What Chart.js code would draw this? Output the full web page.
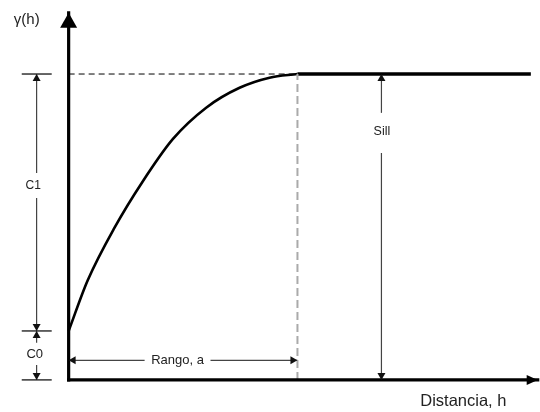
<!DOCTYPE html>
<html lang="es">
<head>
<meta charset="UTF-8">
<title>Variograma</title>
<script src="https://cdn.jsdelivr.net/npm/chart.js"></script>
<style>
  html, body { margin: 0; padding: 0; background: #fff; }
  canvas { display: block; }
</style>
</head>
<body>
<canvas id="variogram" width="540" height="412"></canvas>
<script>
// Modelo de variograma: efecto pepita, meseta y rango
const nugget = 0.16;   // C0
const sill = 1.0;      // C0 + C1
const range = 1.0;     // a
const hAxisEnd = 2.05;
const gammaAxisEnd = 1.2;
const sillEnd = 2.02;

// curva leída punto a punto hasta el rango
const curveH     = [0, 0.083, 0.200, 0.323, 0.455, 0.601, 0.747, 0.878, 1.0];
const curveGamma = [0.16, 0.325, 0.497, 0.648, 0.787, 0.890, 0.955, 0.988, 1.0];

// cotas
const dimX = -0.14;          // cota vertical izquierda (C0, C1)
const tickX = [-0.205, -0.074];
const sillX = 1.367;         // cota de la meseta
const rangoY = 0.064;        // cota del rango
const c1Gap = [0.595, 0.676];
const c0Gap = [0.049, 0.121];
const sillGap = [0.742, 0.873];
const rangoGap = [0.332, 0.620];

const labels = [
  { text: 'γ(h)', h: -0.183, g: 1.176, size: 15 },
  { text: 'Distancia, h', h: 1.725, g: -0.072, size: 16.5 },
  { text: 'C1', h: -0.155, g: 0.634, size: 12 },
  { text: 'C0', h: -0.148, g: 0.082, size: 13 },
  { text: 'Sill', h: 1.369, g: 0.812, size: 12.5 },
  { text: 'Rango, a', h: 0.476, g: 0.062, size: 13 }
];

const pts = (xs, ys) => xs.map((x, i) => ({ x: x, y: ys[i] }));
const seg = (x0, y0, x1, y1) => [{ x: x0, y: y0 }, { x: x1, y: y1 }];

const dimStyle = { borderColor: '#444', borderWidth: 1.2 };
const smallArrow = { len: 7, width: 8, color: '#111' };

const datasets = [
  // ejes
  { data: seg(0, 0, 0, gammaAxisEnd), borderColor: '#000', borderWidth: 3.2, borderCapStyle: 'square',
    arrowEnd: { len: 15, width: 17, color: '#000' } },
  { data: seg(0, 0, hAxisEnd, 0), borderColor: '#000', borderWidth: 3.2, borderCapStyle: 'square',
    arrowEnd: { len: 11, width: 10, color: '#000' } },
  // referencias discontinuas
  { data: seg(0, sill, range, sill), borderColor: '#000', borderWidth: 1, borderDash: [6, 4] },
  { data: seg(range, 0, range, sill), borderColor: '#aaa', borderWidth: 2, borderDash: [8, 4] },
  // curva y meseta
  { data: pts(curveH, curveGamma), borderColor: '#000', borderWidth: 2.6, cubicInterpolationMode: 'monotone' },
  { data: seg(range, sill, sillEnd, sill), borderColor: '#000', borderWidth: 3.6 },
  // marcas de la cota izquierda
  { data: seg(tickX[0], sill, tickX[1], sill), borderColor: '#333', borderWidth: 1.5 },
  { data: seg(tickX[0], nugget, tickX[1], nugget), borderColor: '#333', borderWidth: 1.5 },
  { data: seg(tickX[0], 0, tickX[1], 0), borderColor: '#333', borderWidth: 1.5 },
  // C1
  { data: seg(dimX, c1Gap[1], dimX, sill), ...dimStyle, arrowEnd: smallArrow },
  { data: seg(dimX, c1Gap[0], dimX, nugget), ...dimStyle, arrowEnd: smallArrow },
  // C0
  { data: seg(dimX, c0Gap[1], dimX, nugget), ...dimStyle, arrowEnd: smallArrow },
  { data: seg(dimX, c0Gap[0], dimX, 0), ...dimStyle, arrowEnd: smallArrow },
  // Sill
  { data: seg(sillX, sillGap[1], sillX, sill), ...dimStyle, arrowEnd: smallArrow },
  { data: seg(sillX, sillGap[0], sillX, 0), ...dimStyle, arrowEnd: smallArrow },
  // Rango
  { data: seg(rangoGap[0], rangoY, 0, rangoY), ...dimStyle, arrowEnd: smallArrow },
  { data: seg(rangoGap[1], rangoY, range, rangoY), ...dimStyle, arrowEnd: smallArrow }
];

// puntas de flecha al final de cada trazo
const arrowHeads = {
  id: 'arrowHeads',
  afterDatasetsDraw(chart) {
    const ctx = chart.ctx;
    chart.data.datasets.forEach((ds, i) => {
      if (!ds.arrowEnd) return;
      const el = chart.getDatasetMeta(i).data;
      const a = el[el.length - 2], b = el[el.length - 1];
      const ang = Math.atan2(b.y - a.y, b.x - a.x);
      const { len, width, color } = ds.arrowEnd;
      ctx.save();
      ctx.translate(b.x, b.y);
      ctx.rotate(ang);
      ctx.fillStyle = color;
      ctx.beginPath();
      ctx.moveTo(0, 0);
      ctx.lineTo(-len, width / 2);
      ctx.lineTo(-len, -width / 2);
      ctx.closePath();
      ctx.fill();
      ctx.restore();
    });
  }
};

const textLabels = {
  id: 'textLabels',
  afterDraw(chart) {
    const ctx = chart.ctx;
    const xs = chart.scales.x, ys = chart.scales.y;
    ctx.save();
    ctx.fillStyle = '#222';
    ctx.textAlign = 'center';
    ctx.textBaseline = 'middle';
    labels.forEach(l => {
      ctx.font = l.size + 'px Arial, "Liberation Sans", sans-serif';
      ctx.fillText(l.text, xs.getPixelForValue(l.h), ys.getPixelForValue(l.g));
    });
    ctx.restore();
  }
};

new Chart(document.getElementById('variogram'), {
  type: 'line',
  data: { datasets: datasets.map(d => ({ pointRadius: 0, fill: false, ...d })) },
  options: {
    responsive: false,
    animation: false,
    layout: { padding: 0 },
    scales: {
      x: { type: 'linear', display: false, min: -0.30, max: 2.06 },
      y: { type: 'linear', display: false, min: -0.105, max: 1.242 }
    },
    plugins: { legend: { display: false }, tooltip: { enabled: false } }
  },
  plugins: [arrowHeads, textLabels]
});
</script>
</body>
</html>
